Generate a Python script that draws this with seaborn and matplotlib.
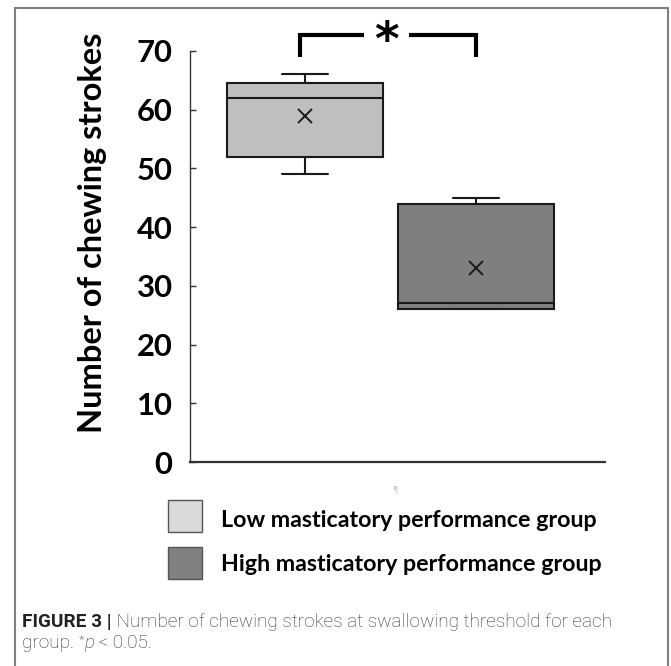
import matplotlib
matplotlib.use("Agg")
import matplotlib.pyplot as plt
from matplotlib.lines import Line2D
from matplotlib.patches import Rectangle
import numpy as np
import pandas as pd
import seaborn as sns

# ---------------- data ----------------
groups = ["Low masticatory performance group", "High masticatory performance group"]
# five-number summaries: min, Q1, median, Q3, max
low_summary = [49, 52, 62, 64.5, 66]
high_summary = [26, 26, 27, 44, 45]
group_means = [59, 33]
box_colors = ["#bfbfbf", "#7f7f7f"]
legend_colors = ["#d9d9d9", "#808080"]
y_ticks = [0, 10, 20, 30, 40, 50, 60, 70]
y_label = "Number of chewing strokes"
sig_label = "*"
caption_head = "FIGURE 3 |"
caption_rest = " Number of chewing strokes at swallowing threshold for each"
caption_line2 = ["group. ", "*", "p", " < 0.05."]
pilcrow = "\u00b6"

# ---------------- style ----------------
sns.set_theme(style="white")
plt.rcParams["font.family"] = ["Lato", "DejaVu Sans"]

W, H = 671, 666
fig = plt.figure(figsize=(W / 100, H / 100), dpi=100, facecolor="white")
renderer = fig.canvas.get_renderer()


def fx(x):
    return x / W


def fy(y):
    return 1 - y / H


Y0, Y70 = 462, 51
X_LEFT, X_RIGHT = 190, 605
ax = fig.add_axes([fx(X_LEFT), fy(Y0), (X_RIGHT - X_LEFT) / W, (Y0 - Y70) / H])
ax.set_facecolor("none")

df = pd.DataFrame({
    "group": np.repeat(groups, [len(low_summary), len(high_summary)]),
    "strokes": low_summary + high_summary,
})
means_df = pd.DataFrame({"group": groups, "mean": group_means})

sns.boxplot(data=df, x="group", y="strokes", hue="group", order=groups,
            hue_order=groups, palette=box_colors, saturation=1, width=0.912,
            whis=(0, 100), linecolor="#1a1a1a", linewidth=1.5, capwidths=0.27,
            legend=False, ax=ax)
sns.pointplot(data=means_df, x="group", y="mean", order=groups,
              linestyle="none", marker="x", markersize=10,
              markeredgewidth=1.4, color="#1a1a1a", errorbar=None, ax=ax)

# axis ranges (box centres at 305 px and 476 px)
ppu = 171.0
ax.set_xlim((X_LEFT - 305) / ppu, 1 + (X_RIGHT - 476) / ppu)
ax.set_ylim(0, 70)
ax.set_xticks([])
ax.set_xlabel("")

for s in ["top", "right"]:
    ax.spines[s].set_visible(False)
ax.spines["left"].set_color("#333333")
ax.spines["left"].set_linewidth(1.0)
ax.spines["bottom"].set_color("#333333")
ax.spines["bottom"].set_linewidth(1.6)

# tick label size fitted to the picture ("70" about 36 px advance, bold)
tmp = fig.text(0, 0, "70", fontsize=18, fontweight="bold")
tick_size = 18 * 36 / tmp.get_window_extent(renderer).width
tmp.remove()
ax.tick_params(axis="y", direction="in", length=4, width=1.0, color="#333333",
               pad=12.5, left=True, labelcolor="black")
ax.set_yticks(y_ticks, labels=[str(v) for v in y_ticks], fontweight="bold",
              fontsize=tick_size)

# y label fitted to ~400 px length
yl = ax.set_ylabel(y_label, fontweight="bold", fontsize=18, color="black",
                   va="center", ha="center", rotation_mode="anchor")
yl.set_fontsize(18 * 400 / yl.get_window_extent(renderer).height)
ax.yaxis.set_label_coords((93 - X_LEFT) / (X_RIGHT - X_LEFT), (Y0 - 233) / (Y0 - Y70))

# significance bracket between the two groups
ppv = (Y0 - Y70) / 70.0
y_top = (Y0 - 35) / ppv
y_bot = (Y0 - 57) / ppv
gap_l, gap_r = (364 - 305) / ppu, (409 - 305) / ppu
bk = dict(color="black", lw=3.0, clip_on=False, solid_joinstyle="miter",
          solid_capstyle="butt")
ax.plot([-0.03, -0.03, gap_l], [y_bot, y_top, y_top], **bk)
ax.plot([gap_r, 1.0, 1.0], [y_top, y_top, y_bot], **bk)
ax.text((gap_l + gap_r) / 2, (Y0 - 38) / ppv, sig_label, ha="center",
        va="center_baseline", fontsize=34, fontweight="bold", color="black",
        clip_on=False, family=["DejaVu Sans"])

# ---------------- legend ----------------
for i, (lab, col) in enumerate(zip(groups, legend_colors)):
    top = [500, 547][i]
    fig.add_artist(Rectangle((fx(168), fy(top + 32)), 34 / W, 32 / H,
                             transform=fig.transFigure, facecolor=col,
                             edgecolor="#555555", lw=1.0))
leg_texts = []
for i, lab in enumerate(groups):
    base = [527, 571][i]
    t = fig.text(fx(221), fy(base), lab, fontsize=17, fontweight="bold",
                 ha="left", va="baseline", color="black")
    leg_texts.append(t)
scale = 376 / leg_texts[0].get_window_extent(renderer).width
for t in leg_texts:
    t.set_fontsize(17 * scale)

fig.text(fx(395), fy(492), pilcrow, fontsize=6, color="#c8c8c8", ha="center",
         va="baseline", family=["DejaVu Sans"])

# ---------------- caption ----------------
cap_font = ["Roboto", "Liberation Sans", "DejaVu Sans"]
base_size = 11
t1 = fig.text(0, 0, caption_head, fontsize=base_size, fontweight="bold", family=cap_font)
t2 = fig.text(0, 0, caption_rest, fontsize=base_size, fontweight="light", family=cap_font)
wtot = t1.get_window_extent(renderer).width + t2.get_window_extent(renderer).width
t1.remove(); t2.remove()
cap_size = base_size * 588 / wtot


def place_run(pieces, x0, y_base):
    x = x0
    for s, kw in pieces:
        kw = dict(kw)
        dy = kw.pop("dy", 0)
        t = fig.text(fx(x), fy(y_base - dy), s, ha="left", va="baseline",
                     family=cap_font, **kw)
        x = t.get_window_extent(renderer).x1
    return x


body = dict(fontsize=cap_size, color="#333333", fontweight="light")
place_run([(caption_head, dict(fontsize=cap_size, fontweight="bold", color="#222222")),
           (caption_rest, body)], 22, 627)
place_run([(caption_line2[0], body),
           (caption_line2[1], dict(body, fontsize=cap_size * 0.7, dy=4)),
           (caption_line2[2], dict(body, style="italic")),
           (caption_line2[3], body)], 22, 648)

# ---------------- outer frame (open at the bottom) ----------------
fc = dict(color="#808080", lw=1.5, transform=fig.transFigure)
fig.add_artist(Line2D([fx(15), fx(15)], [0, fy(8)], **fc))
fig.add_artist(Line2D([fx(15), fx(668)], [fy(8), fy(8)], **fc))
fig.add_artist(Line2D([fx(668), fx(668)], [fy(8), 0], **fc))

fig.savefig("out.png", dpi=100, facecolor="white")
